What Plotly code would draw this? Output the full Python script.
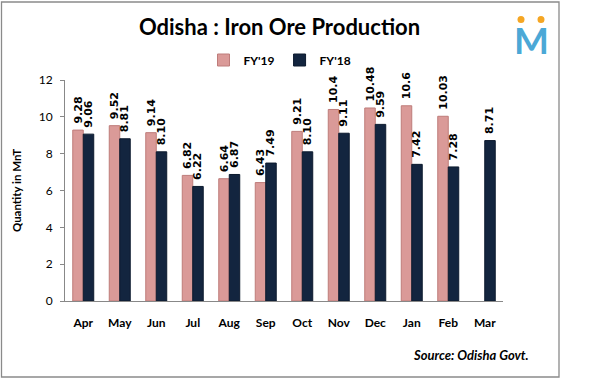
import plotly.graph_objects as go

months = ["Apr", "May", "Jun", "Jul", "Aug", "Sep", "Oct", "Nov", "Dec", "Jan", "Feb", "Mar"]
fy19 = [9.28, 9.52, 9.14, 6.82, 6.64, 6.43, 9.21, 10.4, 10.48, 10.6, 10.03, None]
fy18 = [9.06, 8.81, 8.10, 6.22, 6.87, 7.49, 8.10, 9.11, 9.59, 7.42, 7.28, 8.71]
fy19_labels = ["9.28", "9.52", "9.14", "6.82", "6.64", "6.43", "9.21", "10.4", "10.48", "10.6", "10.03", ""]
fy18_labels = ["9.06", "8.81", "8.10", "6.22", "6.87", "7.49", "8.10", "9.11", "9.59", "7.42", "7.28", "8.71"]
y_ticks = [0, 2, 4, 6, 8, 10, 12]

# plot area in pixels
L, R, T, B = 65, 503, 80, 301
W, H = R - L, B - T

def px(x):
    return (x - L) / W

def py(y):
    return (B - y) / H

lab_font = dict(family="DejaVu Sans", size=11, color="black")

fig = go.Figure()
fig.add_trace(go.Bar(
    x=months, y=fy19, name="<b>FY'19</b>", text=fy19_labels, texttemplate="\u00a0<b>%{text}</b>",
    textposition="outside", textangle=-90, textfont=lab_font, constraintext="none",
    marker=dict(color="#DA9A98", line=dict(color="#BE7C7A", width=1)), cliponaxis=False,
))
fig.add_trace(go.Bar(
    x=months, y=fy18, name="<b>FY'18</b>", text=fy18_labels, texttemplate="\u00a0<b>%{text}</b>",
    textposition="outside", textangle=-90, textfont=lab_font, constraintext="none",
    marker=dict(color="#13253F", line=dict(color="#0C1A2E", width=1)), cliponaxis=False,
))

fig.update_layout(
    width=590, height=384,
    margin=dict(l=L, r=590 - R, t=T, b=384 - B),
    paper_bgcolor="white", plot_bgcolor="white",
    barmode="group", bargap=0.425, bargroupgap=0.0,
    font=dict(family="Lato", size=11, color="black"),
    title=dict(text="<b>Odisha : Iron Ore Production</b>", x=279.5 / 590, xanchor="center",
               y=1 - 27 / 384, yanchor="middle", font=dict(family="Lato", size=22, color="black")),
    legend=dict(orientation="h", x=px(280), xanchor="center", y=py(60), yanchor="middle",
                font=dict(family="Lato", size=12, color="black"), itemwidth=30,
                traceorder="normal", tracegroupgap=0),
    showlegend=True,
)
fig.update_xaxes(showline=True, linecolor="#888888", linewidth=1, ticks="",
                 tickfont=dict(family="Lato", size=12, color="black"),
                 tickprefix="<b>", ticksuffix="</b>", ticklabelstandoff=11)
fig.update_yaxes(range=[0, 12], tickvals=y_ticks, showgrid=False, zeroline=False,
                 showline=True, linecolor="#888888", linewidth=1, ticks="outside",
                 ticklen=4, tickcolor="#888888",
                 tickfont=dict(family="Lato", size=12, color="black"),
                 tickprefix="<b>", ticksuffix="</b>", ticklabelstandoff=5,
                 title=dict(text="<b>Quantity in MnT</b>", font=dict(family="Lato", size=11.5), standoff=14))

fig.add_shape(type="rect", xref="paper", yref="paper", x0=px(1.5), x1=px(559),
              y0=py(377), y1=py(2), line=dict(color="#8A8A8A", width=1.3),
              fillcolor="rgba(0,0,0,0)", layer="below")

fig.add_annotation(text="<i><b>Source: Odisha Govt.</b></i>", xref="paper", yref="paper",
                   x=px(531), y=py(355), xanchor="right", yanchor="middle",
                   showarrow=False, font=dict(family="Lato", size=13, color="black"))

# logo
fig.add_annotation(text="<b>M</b>", xref="paper", yref="paper",
                   x=px(531), y=py(39), xanchor="center", yanchor="middle",
                   showarrow=False, font=dict(family="Lato", size=37, color="#4BA8D6"))
for cx in (521, 541):
    fig.add_shape(type="circle", xref="paper", yref="paper",
                  x0=px(cx - 3.5), x1=px(cx + 3.5), y0=py(23), y1=py(16),
                  fillcolor="#F5A623", line=dict(width=0))

fig.write_html("out.html", config={"displayModeBar": False},
               post_script="document.body.style.margin='0';document.body.style.overflow='hidden';")
